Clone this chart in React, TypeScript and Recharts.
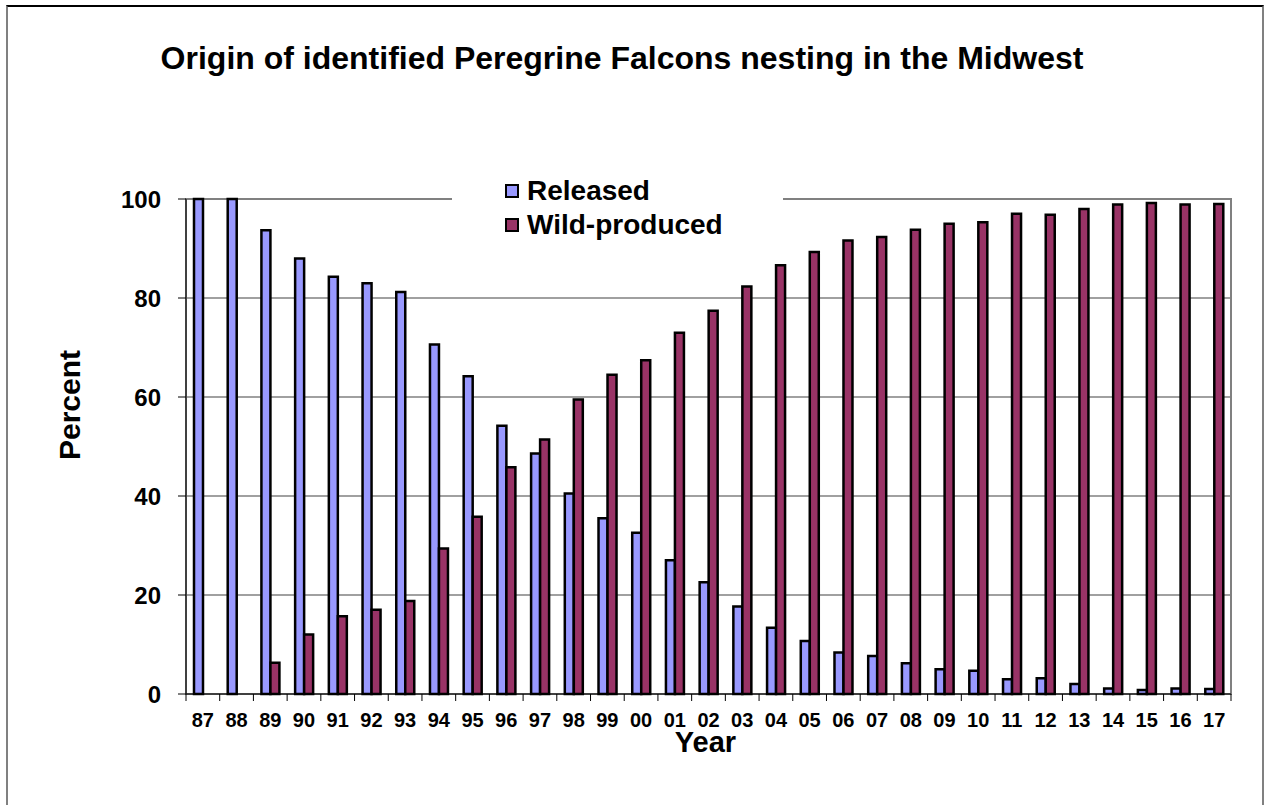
import React from "react";
import {
  BarChart,
  Bar,
  XAxis,
  YAxis,
  CartesianGrid,
  Legend,
  ReferenceArea,
} from "recharts";

const years = [
  "87", "88", "89", "90", "91", "92", "93", "94", "95", "96", "97",
  "98", "99", "00", "01", "02", "03", "04", "05", "06", "07", "08",
  "09", "10", "11", "12", "13", "14", "15", "16", "17",
];
const released = [
  100, 100, 93.7, 88.0, 84.3, 83.0, 81.2, 70.6, 64.2, 54.2, 48.6,
  40.5, 35.5, 32.6, 27.0, 22.6, 17.7, 13.4, 10.7, 8.4, 7.7, 6.2,
  5.0, 4.7, 3.0, 3.2, 2.0, 1.1, 0.8, 1.1, 1.0,
];
const wildProduced = [
  0, 0, 6.3, 12.0, 15.7, 17.0, 18.8, 29.4, 35.8, 45.8, 51.4,
  59.5, 64.5, 67.4, 73.0, 77.4, 82.3, 86.6, 89.3, 91.6, 92.3, 93.8,
  95.0, 95.3, 97.0, 96.8, 98.0, 98.9, 99.2, 98.9, 99.0,
];
const yTicks = [0, 20, 40, 60, 80, 100];

const seriesNames = { released: "Released", wild: "Wild-produced" };
const colors = { released: "#9999FF", wild: "#993366" };

const data = years.map((year, i) => ({
  year,
  released: released[i],
  wild: wildProduced[i],
}));

const FONT = "'Liberation Sans', Arial, Helvetica, sans-serif";
const PLOT_LEFT = 186;
const PLOT_RIGHT = 1231;
const PLOT_TOP = 199;
const PLOT_BOTTOM = 694;

// year labels centred, tick marks on the category boundaries
const XTick = (props: any) => {
  const { x, y, payload, index } = props;
  const band = (PLOT_RIGHT - PLOT_LEFT) / years.length;
  return (
    <g>
      <line x1={x - band / 2} x2={x - band / 2} y1={y} y2={y + 7} stroke="#000" />
      {index === years.length - 1 && (
        <line x1={x + band / 2} x2={x + band / 2} y1={y} y2={y + 7} stroke="#000" />
      )}
      <text
        x={x}
        y={y + 33}
        textAnchor="middle"
        fontSize={20}
        fontWeight="bold"
        fill="#000"
      >
        {payload.value}
      </text>
    </g>
  );
};

const LegendBox = () => (
  <div
    style={{
      background: "#fff",
      width: 331,
      padding: "6px 0",
      fontFamily: FONT,
      fontWeight: "bold",
      fontSize: 28,
      lineHeight: "34px",
      color: "#000",
    }}
  >
    {(["released", "wild"] as const).map((key) => (
      <div key={key} style={{ display: "flex", alignItems: "center", paddingLeft: 53 }}>
        <span
          style={{
            display: "inline-block",
            width: 10,
            height: 10,
            border: "2.5px solid #000",
            background: colors[key],
            marginRight: 8,
          }}
        />
        <span>{seriesNames[key]}</span>
      </div>
    ))}
  </div>
);

export default function App() {
  return (
    <div
      style={{
        position: "absolute",
        left: 0,
        top: 0,
        width: 1268,
        height: 805,
        overflow: "hidden",
        background: "#fff",
        fontFamily: FONT,
      }}
    >
      <div
        style={{
          position: "absolute",
          left: 6,
          top: 5,
          width: 1254,
          height: 900,
          borderTop: "2px solid #000",
          borderLeft: "2px solid #808080",
          borderRight: "2px solid #808080",
        }}
      />
      <div
        style={{
          position: "absolute",
          left: 0,
          top: 38,
          width: 1244,
          textAlign: "center",
          fontSize: 32,
          fontWeight: "bold",
          color: "#000",
          lineHeight: "40px",
        }}
      >
        Origin of identified Peregrine Falcons nesting in the Midwest
      </div>
      <div style={{ position: "absolute", left: 0, top: 0 }}>
        <BarChart
          width={1268}
          height={805}
          data={data}
          margin={{ top: PLOT_TOP, right: 1268 - PLOT_RIGHT, bottom: 0, left: 0 }}
          barGap={0}
          barSize={9}
        >
          <CartesianGrid vertical={false} stroke="#808080" strokeWidth={1.5} />
          <ReferenceArea
            y1={0}
            y2={100}
            fill="none"
            stroke="#808080"
            strokeWidth={2}
          />
          <XAxis
            dataKey="year"
            interval={0}
            height={805 - PLOT_BOTTOM}
            tickSize={0}
            tickMargin={0}
            tickLine={false}
            axisLine={{ stroke: "#000" }}
            tick={<XTick />}
            label={{
              content: (p: any) => (
                <text
                  x={p.viewBox.x + p.viewBox.width / 2 - 3}
                  y={752}
                  textAnchor="middle"
                  fontSize={29}
                  fontWeight="bold"
                  fill="#000"
                >
                  Year
                </text>
              ),
            }}
          />
          <YAxis
            domain={[0, 100]}
            ticks={yTicks}
            width={PLOT_LEFT}
            tickSize={8}
            tickMargin={17}
            axisLine={{ stroke: "#000" }}
            tickLine={{ stroke: "#000" }}
            tick={{ fontSize: 24, fontWeight: "bold", fill: "#000" }}
            label={{
              content: () => (
                <text
                  x={80}
                  y={405}
                  transform="rotate(-90 80 405)"
                  textAnchor="middle"
                  fontSize={30}
                  fontWeight="bold"
                  fill="#000"
                >
                  Percent
                </text>
              ),
            }}
          />
          <Legend
            layout="vertical"
            align="center"
            verticalAlign="middle"
            wrapperStyle={{ left: 452, top: 168, width: 331 }}
            content={() => <LegendBox />}
          />
          <Bar
            dataKey="released"
            name={seriesNames.released}
            fill={colors.released}
            stroke="#000"
            strokeWidth={2.5}
            isAnimationActive={false}
          />
          <Bar
            dataKey="wild"
            name={seriesNames.wild}
            fill={colors.wild}
            stroke="#000"
            strokeWidth={2.5}
            isAnimationActive={false}
          />
        </BarChart>
      </div>
    </div>
  );
}
